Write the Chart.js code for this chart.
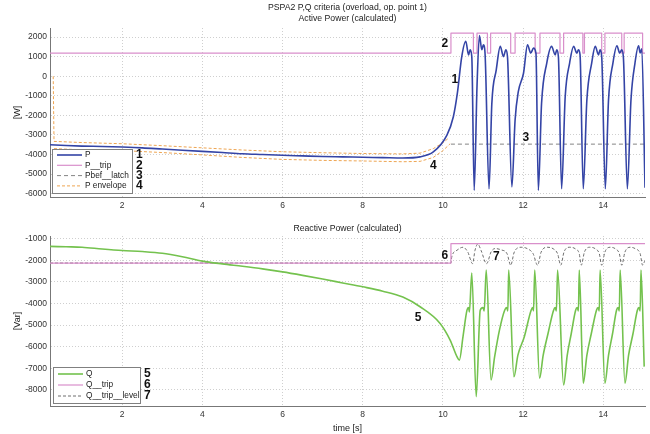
<!DOCTYPE html>
<html>
<head>
<meta charset="utf-8">
<script src="https://cdn.jsdelivr.net/npm/chart.js@4.4.1/dist/chart.umd.min.js"></script>
<style>
  html, body { margin: 0; padding: 0; background: #fff; }
  #wrap { position: relative; width: 650px; height: 434px; }
  .box { position: absolute; left: 0; width: 650px; }
  #top { top: 0; height: 215px; }
  #bot { top: 215px; height: 219px; }
</style>
</head>
<body>
<div id="wrap">
  <div class="box" id="top"><canvas id="pChart"></canvas></div>
  <div class="box" id="bot"><canvas id="qChart"></canvas></div>
</div>
<script>
// ---- data ----
const xTicks = [2, 4, 6, 8, 10, 12, 14];
const pTicks = [-6000, -5000, -4000, -3000, -2000, -1000, 0, 1000, 2000];
const qTicks = [-8000, -7000, -6000, -5000, -4000, -3000, -2000, -1000];

const pTime = [0.2, 0.6, 1.0, 1.5, 2.0, 2.5, 3.0, 3.5, 4.0, 4.5, 5.0, 5.5, 6.0, 6.5, 7.0, 7.5, 8.0, 8.5, 9.0, 9.43,
  9.76, 10.10, 10.26, 10.36, 10.47, 10.57, 10.64, 10.68, 10.72, 10.78, 10.85, 10.91, 10.97, 11.01, 11.05,
  11.15, 11.22, 11.33, 11.43, 11.51, 11.57, 11.61, 11.72, 11.80, 11.88, 12.01, 12.11, 12.19, 12.26, 12.32,
  12.38, 12.46, 12.59, 12.71, 12.80, 12.84, 12.88, 12.96, 13.05, 13.16, 13.26, 13.34, 13.38, 13.42,
  13.50, 13.59, 13.71, 13.80, 13.88, 13.92, 13.96, 14.05, 14.13, 14.24, 14.34, 14.41, 14.46, 14.50,
  14.60, 14.69, 14.79, 14.88, 14.92, 14.96, 15.04];
const pVals = [-3500, -3540, -3570, -3590, -3620, -3660, -3720, -3780, -3840, -3900, -3960, -4000, -4040, -4070, -4100, -4120, -4140, -4160, -4180, -4120,
  -3870, -3010, -2070, -870, 1000, 1780, 1090, 1350, 1000, -5830, -530, 2070, 1350, 1600, 1180,
  -5750, -1390, 320, 1520, 1000, 1350, 1000, -5650, -2240, -790, 150, 1600, 1180, 1430, 1180,
  -5830, -1390, 670, 1520, 1090, 1350, 1000, -5750, -1040, 670, 1520, 1180, 1350, 1090,
  -5750, -1220, 670, 1520, 1090, 1350, 1000, -5750, -1220, 670, 1550, 1180, 1350, 1000,
  -5750, -1220, 670, 1550, 1180, 1400, -5700];

const pTripTime = [0.2, 10.20, 10.76, 10.85, 11.11, 11.19, 11.69, 11.80, 12.30, 12.42, 12.92, 13.01, 13.49, 13.53, 13.96, 14.04, 14.46, 14.52, 14.98, 15.04];
const pTripVals = [1180, 2200, 1180, 2200, 1180, 2200, 1180, 2200, 1180, 2200, 1180, 2200, 1180, 2200, 1180, 2200, 1180, 2200, 1180, 1180];

const pLatchTime = [10.2, 15.04];
const pLatchVals = [-3470, -3470];

const envUpTime = [0.28, 0.30, 1.0, 2.0, 3.0, 4.0, 5.0, 6.0, 7.0, 8.0, 9.0, 9.43, 9.76, 10.0, 10.15];
const envUpVals = [0, -3330, -3390, -3450, -3550, -3660, -3770, -3860, -3910, -3950, -3970, -3930, -3700, -3400, -3150];
const envLoTime = [0.30, 1.0, 2.0, 3.0, 4.0, 5.0, 6.0, 7.0, 8.0, 9.0, 9.43, 9.76, 10.0, 10.18];
const envLoVals = [-3700, -3760, -3800, -3900, -4020, -4150, -4250, -4300, -4330, -4370, -4350, -4150, -3800, -3450];

const qTime = [0.2, 0.6, 1.0, 1.5, 2.0, 2.5, 3.0, 3.5, 4.0, 4.5, 5.0, 5.5, 6.0, 6.5, 7.0, 7.5, 8.0, 8.5, 9.0, 9.43,
  9.93, 10.18, 10.35, 10.41, 10.50, 10.60, 10.64, 10.66, 10.72, 10.83, 10.93, 11.00, 11.03, 11.08,
  11.20, 11.29, 11.41, 11.54, 11.59, 11.62, 11.64, 11.77, 11.87, 12.03, 12.20, 12.24, 12.26, 12.29,
  12.41, 12.50, 12.62, 12.76, 12.80, 12.83, 12.86, 13.01, 13.10, 13.20, 13.31, 13.35, 13.38, 13.40,
  13.50, 13.59, 13.70, 13.83, 13.87, 13.90, 13.92, 14.04, 14.13, 14.23, 14.33, 14.37, 14.40, 14.42,
  14.54, 14.63, 14.74, 14.85, 14.89, 14.92, 14.94, 15.02];
const qVals = [-1360, -1380, -1400, -1480, -1550, -1600, -1680, -1840, -2040, -2170, -2280, -2400, -2540, -2700, -2870, -3050, -3230, -3430, -3700, -4150,
  -4920, -5690, -6460, -6620, -5540, -4310, -4190, -4390, -2590, -8310, -4310, -4190, -4340, -2460,
  -7540, -6460, -5230, -4310, -4190, -4340, -2460, -7390, -6390, -5540, -4310, -4190, -4340, -2460,
  -7460, -6400, -5400, -4310, -4190, -4340, -2460, -7770, -6400, -5400, -4310, -4190, -4340, -2460,
  -7690, -6400, -5400, -4310, -4190, -4340, -2460, -7690, -6400, -5400, -4310, -4190, -4340, -2460,
  -7690, -6400, -5400, -4310, -4190, -4340, -2460, -6920];

const qTripTime = [0.2, 10.20, 15.04];
const qTripVals = [-2130, -1230, -1230];

const qLevelTime = [0.2, 10.20, 10.22, 10.35, 10.50, 10.62, 10.74, 10.80, 10.87, 10.95, 11.09, 11.20, 11.30, 11.45, 11.60, 11.69,
  11.78, 11.95, 12.10, 12.25, 12.36, 12.45, 12.60, 12.75, 12.86, 12.94, 13.02, 13.15, 13.30, 13.40, 13.45,
  13.53, 13.66, 13.80, 13.90, 13.96, 14.04, 14.17, 14.30, 14.40, 14.46, 14.54, 14.67, 14.80, 14.92, 14.98, 15.04];
const qLevelVals = [-2130, -2130, -1850, -1540, -1400, -1620, -2160, -1540, -1250, -1540, -2160, -1620, -1460, -1520, -1700, -2230,
  -1620, -1400, -1460, -1700, -2230, -1620, -1400, -1470, -1700, -2230, -1620, -1400, -1470, -1700, -2230,
  -1620, -1400, -1470, -1700, -2230, -1620, -1400, -1470, -1700, -2230, -1620, -1400, -1470, -1700, -2230, -2000];

// numbered callouts (data coordinates)
const pMarkText = ['1', '2', '3', '4'];
const pMarkTime = [10.30, 10.05, 12.07, 9.76];
const pMarkVals = [-190, 1656, -3128, -4550];
const qMarkText = ['5', '6', '7'];
const qMarkTime = [9.38, 10.05, 11.33];
const qMarkVals = [-4678, -1771, -1817];

const FONT = 'Liberation Sans, Arial, Helvetica, sans-serif';
const BLUE = '#3444a6';
const PINK = '#d98fcb';
const GREEN = '#74c24e';
const ORANGE = '#eea552';
const GRAY = '#858585';

function zip(xs, ys) {
    return xs.map((x, i) => ({ x: x, y: ys[i] }));
}

function makeScales(yMin, yMax, yTickList, yTitle, xTitle, xHeight) {
    return {
        x: {
            type: 'linear', min: 0.2, max: 15.04,
            afterBuildTicks: (s) => { s.ticks = xTicks.map(v => ({ value: v })); },
            ticks: { padding: 4, maxRotation: 0, autoSkip: false, color: '#333', font: { family: FONT, size: 8.5 }, callback: (v) => String(v) },
            grid: { color: '#cfcfcf', drawTicks: false },
            border: { color: '#777', dash: [1, 2] },
            title: { display: !!xTitle, text: xTitle, color: '#222', padding: { top: 0, bottom: 0 }, font: { family: FONT, size: 9 } },
            afterFit: (s) => { s.height = xHeight; }
        },
        y: {
            type: 'linear', min: yMin, max: yMax,
            afterBuildTicks: (s) => { s.ticks = yTickList.map(v => ({ value: v })); },
            ticks: { padding: 3, autoSkip: false, color: '#333', font: { family: FONT, size: 8.5 }, callback: (v) => String(v) },
            grid: { color: '#cfcfcf', drawTicks: false },
            border: { color: '#777', dash: [1, 2] },
            title: { display: true, text: yTitle, color: '#222', padding: { top: 12, bottom: 0 }, font: { family: FONT, size: 9 } },
            afterFit: (s) => { s.width = 50; }
        }
    };
}

// titles, legend box and numbered callouts
const decorPlugin = {
    id: 'decor',
    afterDraw(chart, args, opts) {
        const ctx = chart.ctx;
        const xs = chart.scales.x, ys = chart.scales.y;
        ctx.save();
        ctx.fillStyle = '#222';
        ctx.textAlign = 'center';
        ctx.textBaseline = 'middle';
        ctx.font = '8.7px ' + FONT;
        opts.titles.forEach(t => ctx.fillText(t.text, 347.5, t.y));

        ctx.font = 'bold 12px ' + FONT;
        ctx.fillStyle = '#111';
        opts.marks.text.forEach((m, i) => {
            ctx.fillText(m, xs.getPixelForValue(opts.marks.t[i]), ys.getPixelForValue(opts.marks.v[i]));
        });

        const lg = opts.legend;
        ctx.fillStyle = '#fff';
        ctx.fillRect(lg.x, lg.y, lg.w, lg.h);
        ctx.strokeStyle = '#808080';
        ctx.lineWidth = 1;
        ctx.strokeRect(lg.x + 0.5, lg.y + 0.5, lg.w, lg.h);
        lg.items.forEach((it, i) => {
            const yy = lg.y + lg.first + i * lg.step;
            ctx.strokeStyle = it.color;
            ctx.lineWidth = it.width;
            ctx.setLineDash(it.dash || []);
            ctx.beginPath();
            ctx.moveTo(lg.x + 5, yy);
            ctx.lineTo(lg.x + 30, yy);
            ctx.stroke();
            ctx.setLineDash([]);
            ctx.fillStyle = '#222';
            ctx.textAlign = 'left';
            ctx.font = '8.3px ' + FONT;
            ctx.fillText(it.label, lg.x + 33, yy);
            ctx.font = 'bold 12px ' + FONT;
            ctx.fillStyle = '#111';
            ctx.fillText(it.num, lg.x + lg.w + 4, yy);
        });
        ctx.restore();
    }
};

const lineBase = { pointRadius: 0, fill: false, borderJoinStyle: 'round' };

new Chart(document.getElementById('pChart'), {
    type: 'line',
    data: {
        datasets: [
            Object.assign({ label: 'P', data: zip(pTime, pVals), borderColor: BLUE, borderWidth: 1.6, cubicInterpolationMode: 'monotone' }, lineBase),
            Object.assign({ label: 'P__trip', data: zip(pTripTime, pTripVals), borderColor: PINK, borderWidth: 1.2, stepped: 'before' }, lineBase),
            Object.assign({ label: 'Pbef__latch', data: zip(pLatchTime, pLatchVals), borderColor: GRAY, borderWidth: 1, borderDash: [4, 3] }, lineBase),
            Object.assign({ label: 'P envelope', data: zip(envUpTime, envUpVals), borderColor: ORANGE, borderWidth: 1, borderDash: [3, 2] }, lineBase),
            Object.assign({ label: 'P envelope low', data: zip(envLoTime, envLoVals), borderColor: ORANGE, borderWidth: 1, borderDash: [3, 2] }, lineBase)
        ]
    },
    options: {
        responsive: true,
        maintainAspectRatio: false,
        animation: false,
        layout: { padding: { top: 28, right: 5, left: 0, bottom: 0 } },
        scales: makeScales(-6170, 2460, pTicks, '[W]', '', 18),
        plugins: {
            legend: { display: false },
            tooltip: { enabled: false },
            decor: {
                titles: [
                    { text: 'PSPA2 P,Q criteria (overload, op. point 1)', y: 8 },
                    { text: 'Active Power (calculated)', y: 19 }
                ],
                marks: { text: pMarkText, t: pMarkTime, v: pMarkVals },
                legend: {
                    x: 52, y: 149, w: 80, h: 44, first: 6, step: 10.3,
                    items: [
                        { label: 'P', num: '1', color: BLUE, width: 1.6 },
                        { label: 'P__trip', num: '2', color: PINK, width: 1.2 },
                        { label: 'Pbef__latch', num: '3', color: GRAY, width: 1, dash: [4, 3] },
                        { label: 'P envelope', num: '4', color: ORANGE, width: 1, dash: [3, 2] }
                    ]
                }
            }
        }
    },
    plugins: [decorPlugin]
});

new Chart(document.getElementById('qChart'), {
    type: 'line',
    data: {
        datasets: [
            Object.assign({ label: 'Q', data: zip(qTime, qVals), borderColor: GREEN, borderWidth: 1.6, cubicInterpolationMode: 'monotone' }, lineBase),
            Object.assign({ label: 'Q__trip', data: zip(qTripTime, qTripVals), borderColor: PINK, borderWidth: 1.2, stepped: 'before' }, lineBase),
            Object.assign({ label: 'Q__trip__level', data: zip(qLevelTime, qLevelVals), borderColor: '#6e6e6e', borderWidth: 1, borderDash: [3, 2], cubicInterpolationMode: 'monotone' }, lineBase)
        ]
    },
    options: {
        responsive: true,
        maintainAspectRatio: false,
        animation: false,
        layout: { padding: { top: 21, right: 5, left: 0, bottom: 0 } },
        scales: makeScales(-8740, -880, qTicks, '[Var]', 'time [s]', 28),
        plugins: {
            legend: { display: false },
            tooltip: { enabled: false },
            decor: {
                titles: [
                    { text: 'Reactive Power (calculated)', y: 14 }
                ],
                marks: { text: qMarkText, t: qMarkTime, v: qMarkVals },
                legend: {
                    x: 53, y: 152, w: 87, h: 36, first: 7, step: 11,
                    items: [
                        { label: 'Q', num: '5', color: GREEN, width: 1.6 },
                        { label: 'Q__trip', num: '6', color: PINK, width: 1.2 },
                        { label: 'Q__trip__level', num: '7', color: '#6e6e6e', width: 1, dash: [3, 2] }
                    ]
                }
            }
        }
    },
    plugins: [decorPlugin]
});
</script>
</body>
</html>
